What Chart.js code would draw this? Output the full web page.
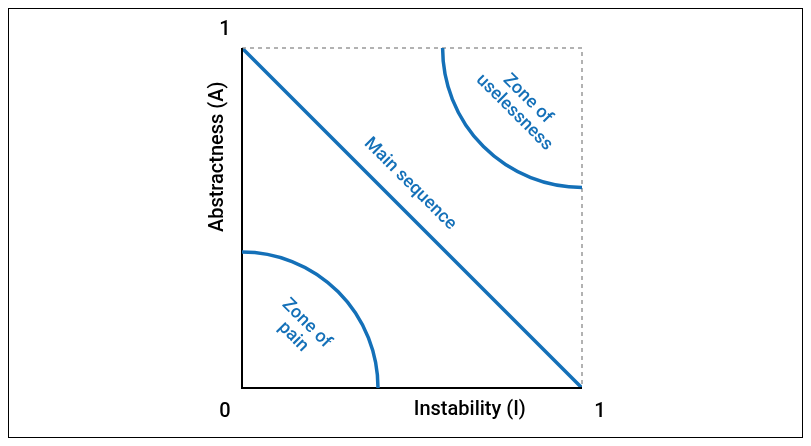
<!DOCTYPE html>
<html>
<head>
<meta charset="utf-8">
<script src="https://cdn.jsdelivr.net/npm/chart.js@4"></script>
<style>
  html, body { margin: 0; padding: 0; background: #fff; }
  #wrap { width: 811px; height: 446px; position: relative; }
</style>
</head>
<body>
<div id="wrap"><canvas id="c"></canvas></div>
<script>
// 主序列（從 (0,1) 到 (1,0)）
const mainSeqX = [0, 1];
const mainSeqY = [1, 0];
// 區域：圓心與半徑（資料單位）
const zoneCenters = [[0, 0], [1, 1]];
const zoneRadii = [0.4, 0.41];
const zoneLabels = [['Zone of', 'pain'], ['Zone of', 'uselessness']];
const zoneLabelPos = [[0.17, 0.17], [0.82, 0.83]];
const tickLabels = ['0', '1'];

const BLUE = '#1470b8';
const FONT = 'Roboto, "DejaVu Sans Condensed", sans-serif';

const drawPlugin = {
    id: 'drawPlugin',
    beforeDraw(chart) {
        const ctx = chart.ctx;
        ctx.save();
        ctx.strokeStyle = '#000';
        ctx.lineWidth = 1;
        ctx.strokeRect(8.5, 8.5, 794, 429);
        ctx.restore();
    },
    afterDatasetsDraw(chart) {
        const ctx = chart.ctx;
        const xs = chart.scales.x, ys = chart.scales.y;
        const px = v => xs.getPixelForValue(v);
        const py = v => ys.getPixelForValue(v);
        ctx.save();
        // 上方與右方虛線
        ctx.strokeStyle = '#999';
        ctx.lineWidth = 1.5;
        ctx.setLineDash([4, 4]);
        ctx.beginPath();
        ctx.moveTo(px(0), py(1)); ctx.lineTo(px(1), py(1)); ctx.lineTo(px(1), py(0));
        ctx.stroke();
        ctx.setLineDash([]);
        // 左方與下方實線軸
        ctx.strokeStyle = '#000';
        ctx.lineWidth = 2;
        ctx.beginPath();
        ctx.moveTo(px(0), py(1)); ctx.lineTo(px(0), py(0)); ctx.lineTo(px(1), py(0));
        ctx.stroke();
        // 區域圓弧
        ctx.strokeStyle = BLUE;
        ctx.lineWidth = 3.5;
        zoneCenters.forEach((c, i) => {
            const r = xs.getPixelForValue(zoneRadii[i]) - xs.getPixelForValue(0);
            ctx.beginPath();
            if (i === 0) ctx.arc(px(c[0]), py(c[1]), r, -Math.PI / 2, 0);
            else ctx.arc(px(c[0]), py(c[1]), r, Math.PI / 2, Math.PI);
            ctx.stroke();
        });
        // 區域文字
        ctx.fillStyle = BLUE;
        ctx.font = '500 18px ' + FONT;
        ctx.textAlign = 'center';
        ctx.textBaseline = 'middle';
        zoneLabels.forEach((lines, i) => {
            ctx.save();
            ctx.translate(px(zoneLabelPos[i][0]), py(zoneLabelPos[i][1]));
            ctx.rotate(Math.PI / 4);
            lines.forEach((t, j) => ctx.fillText(t, 0, (j - (lines.length - 1) / 2) * 19));
            ctx.restore();
        });
        ctx.save();
        ctx.translate(px(0.5) - 2, py(0.5) - 34);
        ctx.rotate(Math.PI / 4);
        ctx.fillText('Main sequence', 0, 0);
        ctx.restore();
        // 座標文字
        ctx.fillStyle = '#000';
        ctx.font = '500 20px ' + FONT;
        ctx.fillText(tickLabels[1], px(0) - 17, py(1) - 18);
        ctx.fillText(tickLabels[0], px(0) - 17, py(0) + 24);
        ctx.fillText(tickLabels[1], px(1) + 18, py(0) + 24);
        ctx.fillText('Instability (I)', px(0.67), py(0) + 22);
        ctx.save();
        ctx.translate(px(0) - 24, py(0.68));
        ctx.rotate(-Math.PI / 2);
        ctx.fillText('Abstractness (A)', 0, 0);
        ctx.restore();
        ctx.restore();
    }
};

new Chart(document.getElementById('c'), {
    type: 'scatter',
    data: {
        datasets: [{
            data: mainSeqX.map((x, i) => ({ x: x, y: mainSeqY[i] })),
            showLine: true,
            borderColor: BLUE,
            borderWidth: 3.5,
            pointRadius: 0
        }]
    },
    options: {
        responsive: true,
        maintainAspectRatio: false,
        animation: false,
        layout: { padding: { left: 242, right: 229, top: 48, bottom: 58 } },
        plugins: { legend: { display: false }, tooltip: { enabled: false } },
        scales: {
            x: { type: 'linear', min: 0, max: 1, display: false },
            y: { type: 'linear', min: 0, max: 1, display: false }
        }
    },
    plugins: [drawPlugin]
});
</script>
</body>
</html>
